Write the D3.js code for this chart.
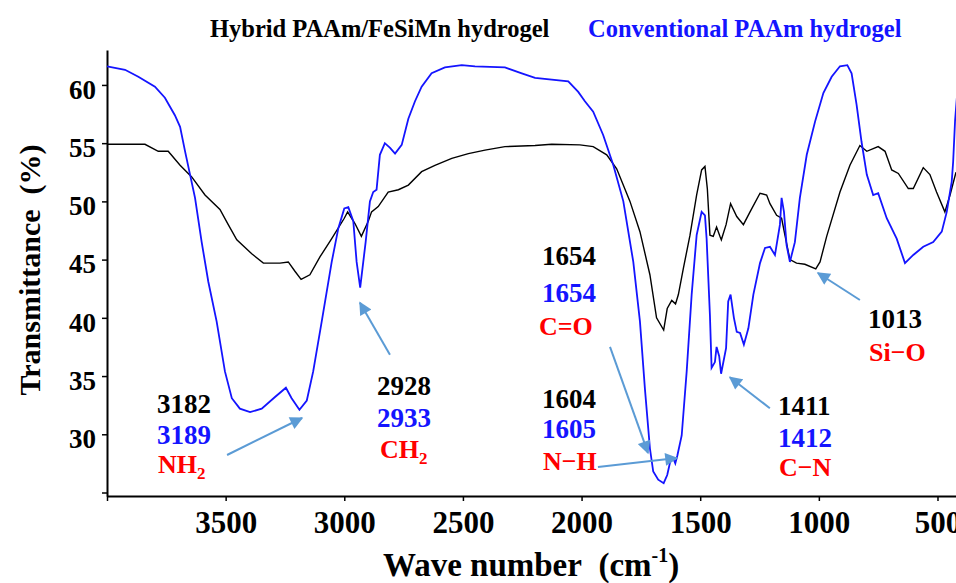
<!DOCTYPE html>
<html>
<head>
<meta charset="utf-8">
<script src="https://cdn.jsdelivr.net/npm/d3@7"></script>
<style>
  html, body { margin: 0; padding: 0; background: #fff; }
  svg text { font-family: "Liberation Serif", "Times New Roman", serif; font-weight: bold; }
</style>
</head>
<body>
<svg id="chart" width="956" height="583"></svg>
<script>
// FTIR spectra: wavenumber (cm-1) and transmittance (%)
const convWave = [4000,3924,3868,3798,3756,3714,3692,3671,3650,3629,3601,3573,3538,3503,3474,3440,3397,3348,3292,3246,3222,3189,3158,3131,3095,3053,3025,3000,2983,2962,2948,2933,2910,2892,2878,2864,2850,2829,2807,2786,2758,2730,2702,2674,2632,2576,2505,2449,2323,2252,2196,2056,2014,1986,1951,1909,1866,1824,1782,1754,1733,1712,1698,1677,1654,1639,1627,1613,1605,1596,1578,1557,1536,1515,1494,1480,1473,1459,1452,1438,1431,1420,1412,1391,1382,1372,1358,1346,1332,1316,1297,1276,1248,1227,1206,1185,1164,1157,1147,1136,1122,1101,1080,1051,1016,981,946,911,880,862,841,820,798,771,750,714,672,637,602,560,518,482,461,440,434,426,418];
const convT = [61.6,61.3,60.7,59.85,58.9,57.4,56.4,54.3,52.3,50.3,46.5,43.1,39.7,35.4,33.1,32.2,31.9,32.2,33.2,34.0,33.1,32.1,32.9,35.4,39.7,44.8,47.7,49.4,49.5,48.3,44.8,42.6,46.5,50.0,50.8,51.0,54.0,55.0,54.6,54.1,54.85,57.1,58.6,59.85,61.0,61.5,61.7,61.6,61.5,61.0,60.6,60.3,59.4,58.6,57.7,55.7,53.1,50.0,44.8,39.7,33.9,28.8,26.8,26.1,25.8,26.5,27.6,27.9,27.5,28.2,29.9,35.4,42.0,47.1,49.1,48.8,46.8,40.2,35.7,36.2,37.5,36.7,35.2,37.4,41.4,42.0,40.0,38.8,38.7,37.7,39.1,42.0,44.7,46.0,46.1,45.4,48.0,50.3,49.1,46.25,44.8,46.5,50.3,54.0,56.85,59.3,60.7,61.6,61.7,61.0,58.3,55.1,52.3,50.55,50.7,48.55,46.8,44.7,45.4,46.1,46.5,47.4,49.1,51.7,53.4,56.9,59.0];

const hybWave = [4000,3840,3784,3742,3692,3643,3587,3524,3489,3453,3390,3341,3271,3236,3208,3182,3145,3102,3053,3000,2986,2955,2928,2899,2885,2857,2815,2772,2730,2674,2618,2547,2477,2407,2323,2196,2126,2007,1951,1894,1852,1796,1754,1712,1684,1654,1639,1620,1604,1592,1571,1543,1515,1494,1480,1470,1459,1445,1431,1417,1411,1391,1372,1346,1318,1290,1248,1220,1206,1178,1157,1143,1122,1094,1059,1013,995,967,911,869,827,798,750,721,693,665,623,602,560,532,504,469,447,422];
const hybT = [54.9,54.9,54.3,54.3,53.1,52.1,50.55,49.3,48.0,46.7,45.5,44.7,44.7,44.8,44.0,43.3,43.7,45.25,46.8,48.55,49.1,48.1,47.0,48.3,49.1,49.55,50.8,51.0,51.4,52.55,53.1,53.7,54.1,54.4,54.7,54.8,54.9,54.85,54.7,54.0,52.8,50.0,47.4,43.7,40.0,38.95,40.8,41.5,41.2,42.0,44.25,47.1,50.55,52.7,53.0,51.1,47.1,47.0,47.8,47.0,46.7,48.0,49.8,48.7,48.0,49.1,50.7,50.55,49.8,48.8,48.55,47.1,45.0,44.7,44.6,44.2,44.8,47.0,50.8,53.1,54.8,54.3,54.7,54.3,52.7,52.4,51.1,51.1,52.9,52.3,50.8,49.1,50.55,52.5];

const seriesNames = ["Hybrid PAAm/FeSiMn hydrogel", "Conventional PAAm hydrogel"];
const xTicks = [4000, 3500, 3000, 2500, 2000, 1500, 1000, 500];
const yTicks = [25, 30, 35, 40, 45, 50, 55, 60];

// Band assignments: wavenumber of the hybrid band, of the conventional band, group name
const bandHybrid = ["3182", "2928", "1654", "1604", "1411", "1013"];
const bandConv   = ["3189", "2933", "1654", "1605", "1412", ""];
const bandGroup  = ["NH|2", "CH|2", "C=O", "N−H", "C−N", "Si−O"];

// Arrow tips in data space [wavenumber, transmittance]
const arrowTipWave = [3178, 2934, 1720, 1598, 1375, 1004];
const arrowTipT    = [31.4, 41.3, 28.4, 27.96, 34.9, 43.85];

// ---- layout ----
const svg = d3.select("#chart");
const W = 956, H = 583;
const plot = { left: 107, right: 956, top: 50, bottom: 496 };

const x = d3.scaleLinear().domain([4000, 422]).range([plot.left, plot.right]);
const y = d3.scaleLinear().domain([24.7, 63]).range([plot.bottom, plot.top]);

svg.append("rect").attr("width", W).attr("height", H).attr("fill", "#fff");

const colHybrid = "#000000", colConv = "#1414ff", colRed = "#ff0000", colArrow = "#5b9bd5";

// axes
const yAxis = d3.axisLeft(y).tickValues(yTicks).tickSize(5).tickSizeOuter(0).tickPadding(6)
  .tickFormat(d => d === 25 ? "" : d);
const gy = svg.append("g").attr("transform", `translate(${plot.left},0)`).call(yAxis);
gy.select(".domain").attr("stroke", "#000").attr("stroke-width", 2);
gy.selectAll(".tick line").attr("stroke", "#000").attr("stroke-width", 1.5);
gy.selectAll(".tick text").attr("font-size", 27).attr("fill", "#000").attr("dy", "0.49em")
  .style("font-family", '"Liberation Serif", serif').style("font-weight", "bold");

const xAxis = d3.axisBottom(x).tickValues(xTicks).tickSize(5).tickSizeOuter(0).tickPadding(10)
  .tickFormat(d => d === 4000 ? "" : d);
const gx = svg.append("g").attr("transform", `translate(0,${plot.bottom})`).call(xAxis);
gx.select(".domain").attr("stroke", "#000").attr("stroke-width", 2);
gx.selectAll(".tick line").attr("stroke", "#000").attr("stroke-width", 1.5);
gx.selectAll(".tick text").attr("font-size", 31).attr("fill", "#000")
  .style("font-family", '"Liberation Serif", serif').style("font-weight", "bold");

// spectra
svg.append("clipPath").attr("id", "plotclip")
  .append("rect").attr("x", plot.left).attr("y", plot.top - 10)
  .attr("width", plot.right - plot.left).attr("height", plot.bottom - plot.top + 10);

const line = d3.line().x(d => x(d[0])).y(d => y(d[1]));
const g = svg.append("g").attr("clip-path", "url(#plotclip)");
g.append("path").datum(hybWave.map((w, i) => [w, hybT[i]]))
  .attr("d", line).attr("fill", "none").attr("stroke", colHybrid).attr("stroke-width", 1.4);
g.append("path").datum(convWave.map((w, i) => [w, convT[i]]))
  .attr("d", line).attr("fill", "none").attr("stroke", colConv).attr("stroke-width", 1.8);

// series titles
svg.append("text").attr("x", 210).attr("y", 37).attr("font-size", 24.5).attr("fill", colHybrid).text(seriesNames[0]);
svg.append("text").attr("x", 588).attr("y", 37).attr("font-size", 24.5).attr("fill", colConv).text(seriesNames[1]);

// axis titles
svg.append("text").attr("transform", "translate(40,270) rotate(-90)")
  .attr("text-anchor", "middle").attr("font-size", 30).attr("fill", "#000")
  .text("Transmittance\u00a0\u00a0(%)");
const xl = svg.append("text").attr("x", 383).attr("y", 576).attr("font-size", 33).attr("fill", "#000");
xl.append("tspan").text("Wave number\u00a0\u00a0(cm");
xl.append("tspan").attr("font-size", 20).attr("dy", -14).text("-1");
xl.append("tspan").attr("dy", 14).text(")");

// band annotation blocks: [x, baselines...]
const blockPos = [
  [157, 413, 444, 473],
  [377, 395, 427, 458],
  [542, 265, 302, 335],
  [542, 408, 438, 470],
  [778, 415, 447, 476],
  [868, 328, null, 361]
];
const fs = 27;
function groupText(sel, label) {
  const parts = label.split("|");
  sel.append("tspan").text(parts[0]);
  if (parts[1]) sel.append("tspan").attr("font-size", 17).attr("dy", 6).text(parts[1]);
}
bandHybrid.forEach((h, i) => {
  const p = blockPos[i];
  svg.append("text").attr("x", p[0]).attr("y", p[1]).attr("font-size", fs).attr("fill", colHybrid).text(h);
  if (bandConv[i]) svg.append("text").attr("x", p[0]).attr("y", p[2]).attr("font-size", fs).attr("fill", colConv).text(bandConv[i]);
  const t = svg.append("text").attr("x", p[0] + (i === 1 ? 3 : (i === 2 ? -3 : 1))).attr("y", p[3])
    .attr("font-size", fs - 1).attr("fill", colRed);
  groupText(t, bandGroup[i]);
});

// arrows: tail offset in px from the tip
const tailOffset = [[-75, 37], [30, 52], [-38, -106], [-79, 9], [40, 31], [42, 27]];
const defs = svg.append("defs");
defs.append("marker").attr("id", "ah").attr("viewBox", "0 0 10 10")
  .attr("refX", 9).attr("refY", 5).attr("markerWidth", 7.5).attr("markerHeight", 6.5)
  .attr("markerUnits", "strokeWidth").attr("orient", "auto")
  .append("path").attr("d", "M0,0 L10,5 L0,10 Z").attr("fill", colArrow);
arrowTipWave.forEach((w, i) => {
  const tx = x(w), ty = y(arrowTipT[i]);
  svg.append("line")
    .attr("x1", tx + tailOffset[i][0]).attr("y1", ty + tailOffset[i][1])
    .attr("x2", tx).attr("y2", ty)
    .attr("stroke", colArrow).attr("stroke-width", 2).attr("marker-end", "url(#ah)");
});
</script>
</body>
</html>
